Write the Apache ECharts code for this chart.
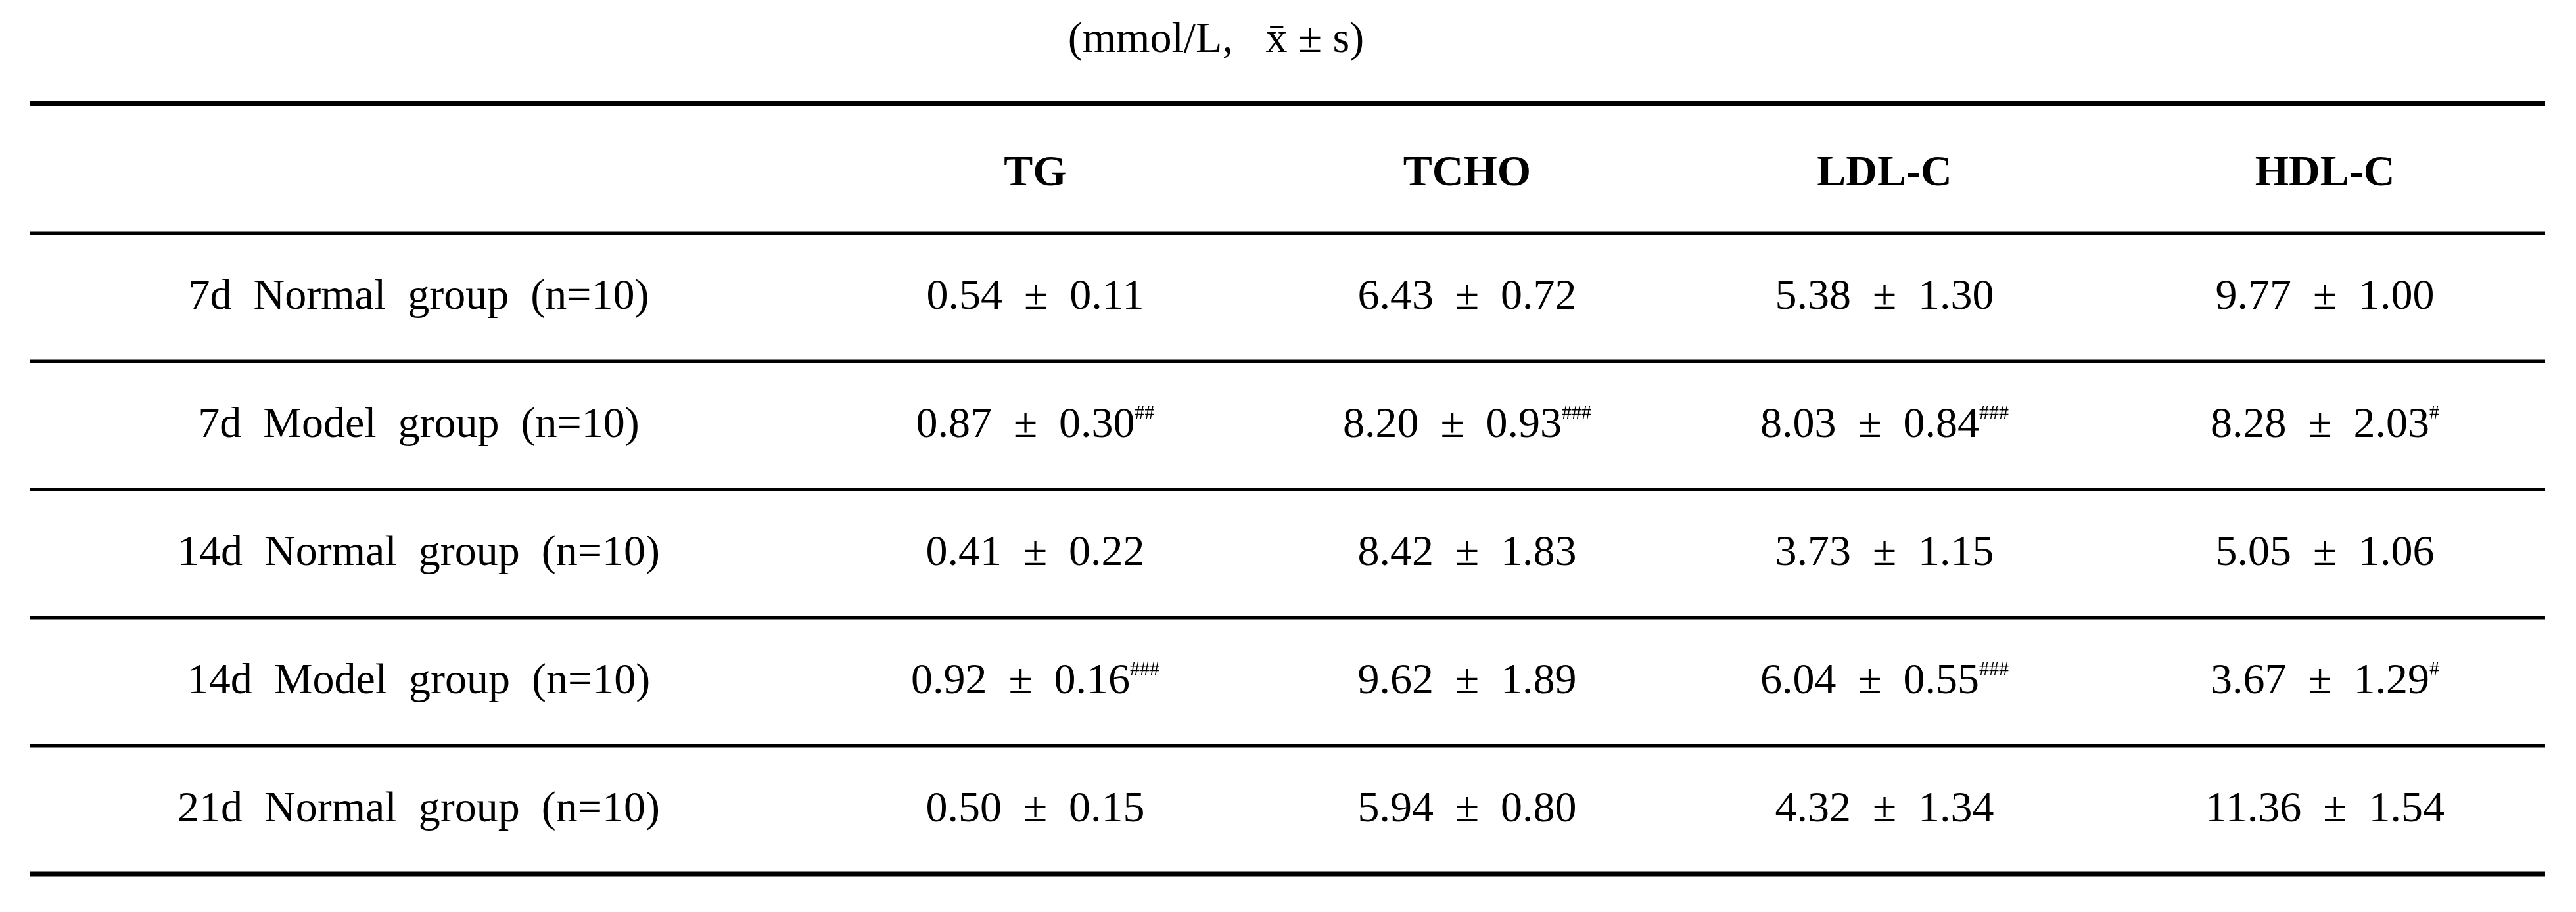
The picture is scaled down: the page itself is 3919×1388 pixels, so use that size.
<!DOCTYPE html>
<html>
<head>
<meta charset="utf-8">
<script src="https://cdn.jsdelivr.net/npm/echarts@6/dist/echarts.min.js"></script>
<style>html,body{margin:0;background:#fff}#c{width:3919px;height:1388px}</style>
</head>
<body>
<div id="c"></div>
<script>
var columns = ['TG', 'TCHO', 'LDL-C', 'HDL-C'];
var groups = ['7d Normal group (n=10)', '7d Model group (n=10)', '14d Normal group (n=10)', '14d Model group (n=10)', '21d Normal group (n=10)'];
var means = [
  [0.54, 6.43, 5.38, 9.77],
  [0.87, 8.20, 8.03, 8.28],
  [0.41, 8.42, 3.73, 5.05],
  [0.92, 9.62, 6.04, 3.67],
  [0.50, 5.94, 4.32, 11.36]
];
var sds = [
  [0.11, 0.72, 1.30, 1.00],
  [0.30, 0.93, 0.84, 2.03],
  [0.22, 1.83, 1.15, 1.06],
  [0.16, 1.89, 0.55, 1.29],
  [0.15, 0.80, 1.34, 1.54]
];
var marks = [
  ['', '', '', ''],
  ['##', '###', '###', '#'],
  ['', '', '', ''],
  ['###', '', '###', '#'],
  ['', '', '', '']
];

var chart = echarts.init(document.getElementById('c'));
var font = '"Liberation Serif", "DejaVu Serif", serif';
var colX = [637, 1575, 2232, 2867, 3537];
var tableTop = 158, headH = 197, rowH = 195, tableLeft = 45, tableRight = 3872;
var els = [];

function hline(y, w) {
  els.push({ type: 'line', shape: { x1: tableLeft, y1: y, x2: tableRight, y2: y }, style: { stroke: '#000', lineWidth: w } });
}
function txt(x, y, t, bold) {
  els.push({
    type: 'text', x: x, y: y,
    style: {
      text: t, align: 'center', verticalAlign: 'middle',
      font: (bold ? 'bold ' : '') + '66px ' + font, fill: '#000',
      rich: { s: { fontSize: 30, fontFamily: font, verticalAlign: 'top', padding: [0, 0, 26, 0] } }
    }
  });
}

els.push({
  type: 'text', x: 1850, y: 62,
  style: { text: '(mmol/L,   x\u0304 ± s)', align: 'center', verticalAlign: 'middle', font: '66px ' + font, fill: '#000' }
});
hline(tableTop, 8);
columns.forEach(function (c, j) { txt(colX[j + 1], tableTop + headH / 2 + 8, c, true); });
hline(tableTop + headH, 5);
groups.forEach(function (g, i) {
  var y = tableTop + headH + rowH * i + rowH / 2;
  txt(colX[0], y, g.replace(/ /g, '  '));
  for (var j = 0; j < 4; j++) {
    var m = marks[i][j];
    txt(colX[j + 1], y, means[i][j].toFixed(2) + '  ±  ' + sds[i][j].toFixed(2) + (m ? '{s|' + m + '}' : ''));
  }
  hline(tableTop + headH + rowH * (i + 1), i === groups.length - 1 ? 7 : 5);
});

chart.setOption({ backgroundColor: '#fff', graphic: els });
</script>
</body>
</html>
